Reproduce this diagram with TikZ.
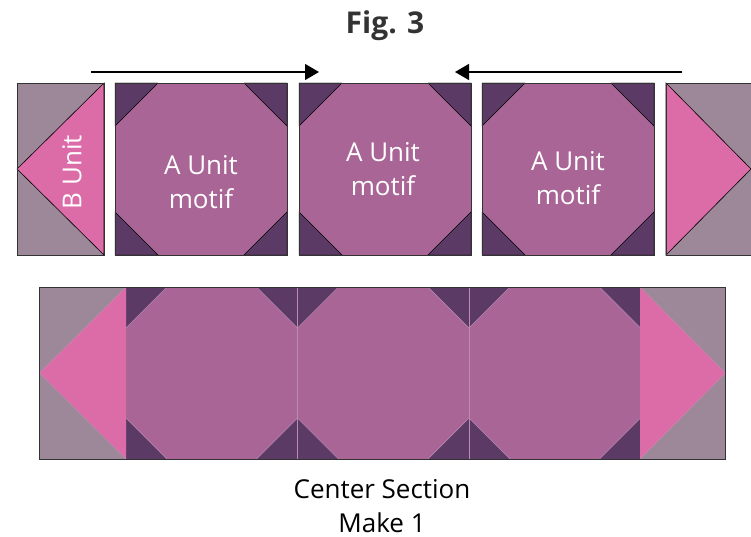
\documentclass[tikz,border=0pt]{standalone}
\usepackage{fontspec}
\setmainfont{Open Sans}
\usetikzlibrary{arrows.meta}
\definecolor{greyfab}{HTML}{9C8898}
\definecolor{pinkfab}{HTML}{DC6CA8}
\definecolor{mauvefab}{HTML}{A86596}
\definecolor{darkfab}{HTML}{5C3A66}
\tikzset{
  seam/.style={draw=black,line width=0.6pt},
  lightseam/.style={draw=white!25!mauvefab,line width=0.5pt},
  label/.style={text=white,font=\fontsize{26}{34}\selectfont,align=center},
  caption/.style={font=\fontsize{26}{30}\selectfont,text=black},
  pressarrow/.style={line width=1.4pt,-{Triangle[length=14pt,width=16pt]}}
}
\begin{document}
\begin{tikzpicture}[x=1pt,y=-1pt]
\useasboundingbox (0,0) rectangle (751,537);
\node[font=\bfseries\fontsize{30}{34}\selectfont,text=black!80] (title) at (385,26) {Fig. 3};
% top row
\foreach \x in {115,299,482} {
\fill[mauvefab] (\x,83) rectangle (\x+172,255);
\fill[darkfab,seam,line width=0.4pt] (\x,83) -- (\x+43,83) -- (\x,126) -- cycle;
\fill[darkfab,seam,line width=0.4pt] (\x+172,83) -- (\x+129,83) -- (\x+172,126) -- cycle;
\fill[darkfab,seam,line width=0.4pt] (\x,255) -- (\x+43,255) -- (\x,212) -- cycle;
\fill[darkfab,seam,line width=0.4pt] (\x+172,255) -- (\x+129,255) -- (\x+172,212) -- cycle;
\draw[line width=0.8pt,black!80] (\x,83) rectangle (\x+172,255);
}
\fill[greyfab] (17,83) rectangle (104,255);
\fill[pinkfab,seam] (104,83) -- (17,169) -- (104,255) -- cycle;
\draw[line width=0.8pt,black!80] (17,83) rectangle (104,255);
\fill[greyfab] (666,83) -- (751,83) -- (751,255) -- (666,255) -- cycle;
\fill[pinkfab,seam] (666,83) -- (751,169) -- (666,255) -- cycle;
\draw[line width=0.8pt,black!80] (751,83) -- (666,83) -- (666,255) -- (751,255);
\node[label] (unitA) at (201,182) {A Unit\\motif};
\node[label] (unitB) at (383,169) {A Unit\\motif};
\node[label] (unitC) at (568,178) {A Unit\\motif};
\node[label,rotate=90] (unitD) at (72,172) {B Unit};
\coordinate (arrowL) at (91,72);
\coordinate (arrowLend) at (319,72);
\coordinate (arrowR) at (682,72);
\coordinate (arrowRend) at (455,72);
\draw[pressarrow] (arrowL) -- (arrowLend);
\draw[pressarrow] (arrowR) -- (arrowRend);
% center section
\fill[mauvefab] (126,287) rectangle (640,459);
\foreach \x in {126,297.5,469} {
\fill[darkfab] (\x,287) -- (\x+41,287) -- (\x,328) -- cycle;
\fill[darkfab] (\x+171.5,287) -- (\x+130.5,287) -- (\x+171.5,328) -- cycle;
\fill[darkfab] (\x,459) -- (\x+41,459) -- (\x,418) -- cycle;
\fill[darkfab] (\x+171.5,459) -- (\x+130.5,459) -- (\x+171.5,418) -- cycle;
\draw[lightseam] (\x+41,287) -- (\x,328);
\draw[lightseam] (\x+130.5,287) -- (\x+171.5,328);
\draw[lightseam] (\x+41,459) -- (\x,418);
\draw[lightseam] (\x+130.5,459) -- (\x+171.5,418);
}
\draw[lightseam] (297.5,287) -- (297.5,459);
\draw[lightseam] (469,287) -- (469,459);
\fill[greyfab] (39,287) rectangle (126,459);
\fill[pinkfab] (126,287) -- (39.5,373) -- (126,459) -- cycle;
\draw[lightseam] (126,287) -- (39.5,373) -- (126,459);
\fill[greyfab] (640,287) rectangle (725.5,459);
\fill[pinkfab] (640,287) -- (725.5,373) -- (640,459) -- cycle;
\draw[lightseam] (640,287) -- (725.5,373) -- (640,459);
\draw[line width=0.9pt,black!80] (39,287) rectangle (725.5,459);
\node[caption] (sectionname) at (382,489) {Center Section};
\node[caption] (sectioncount) at (382,523) {Make 1};
\end{tikzpicture}
\end{document}
